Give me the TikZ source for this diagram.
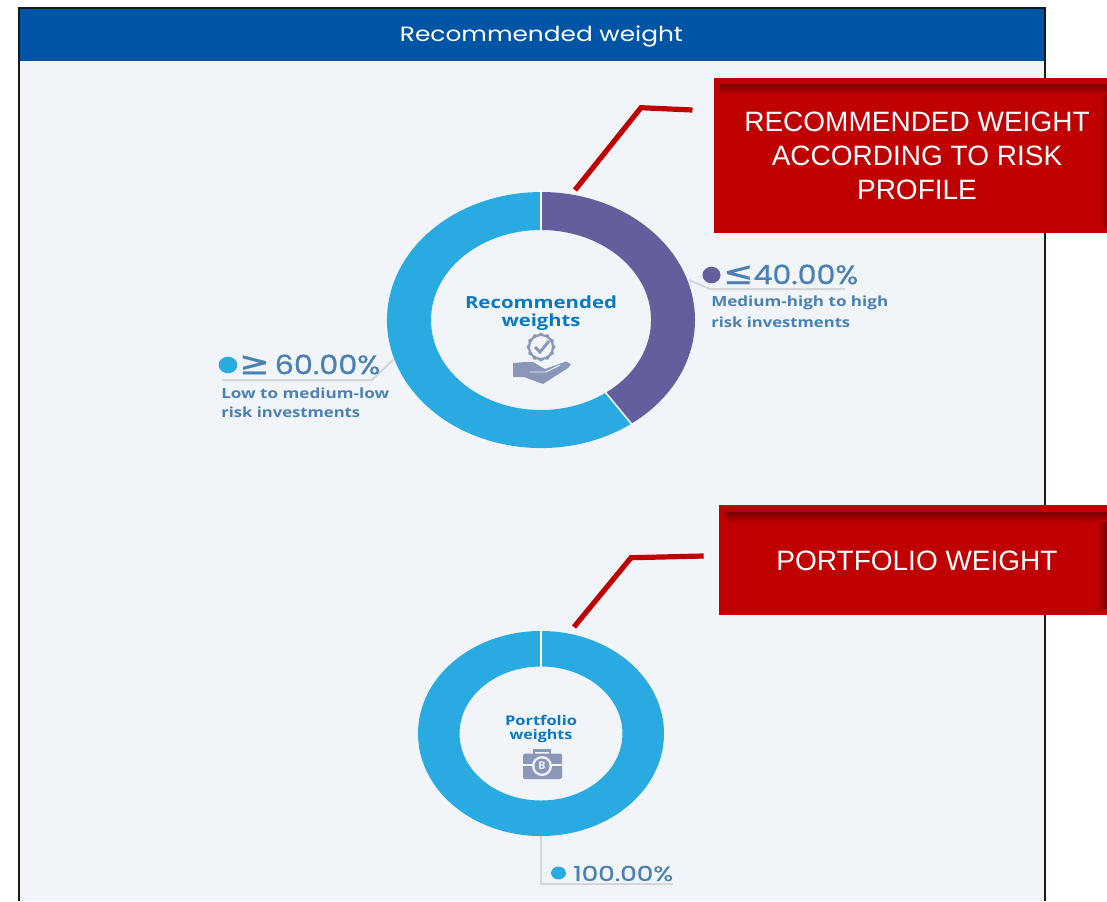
\documentclass[tikz,border=0pt]{standalone}
\usepackage{graphicx}
\usepackage{fontspec}
\setmainfont{Open Sans}
\newfontfamily\callfont{Liberation Sans}
\newfontfamily\hdrfont{Poppins}
\newfontfamily\pctfont[FakeBold=0.7]{Poppins}
\newfontfamily\symfont[FakeBold=0.7]{DejaVu Sans}
\newdimen\pxu \pxu=0.75pt
\newcommand{\fitw}[2]{\resizebox{#1\pxu}{\height}{#2}}
\definecolor{hdrblue}{HTML}{0054A6}
\definecolor{panelbg}{HTML}{F1F5F9}
\definecolor{ringblue}{HTML}{29ABE2}
\definecolor{ringpurple}{HTML}{625F9C}
\definecolor{callred}{HTML}{C00000}
\definecolor{calldark}{HTML}{7A0000}
\definecolor{labelblue}{HTML}{4A80B4}
\definecolor{centreblue}{HTML}{0A78C2}
\definecolor{icongrey}{HTML}{8A97B8}
\definecolor{leadergrey}{HTML}{D2D6DC}
\tikzset{
  lbl/.style={inner sep=0pt,anchor=west,text=labelblue},
  bigpct/.style={lbl,font=\pctfont\fontsize{20}{20}\selectfont},
  smalltxt/.style={lbl,font=\fontsize{10.5}{10.5}\selectfont\bfseries},
  centretxt/.style={inner sep=0pt,text=centreblue,font=\fontsize{12.5}{12.5}\selectfont\bfseries},
  centresm/.style={inner sep=0pt,text=centreblue,font=\fontsize{10}{10}\selectfont\bfseries},
  leader/.style={draw=leadergrey,line width=1.5pt},
  callbox/.style={fill=callred,draw=none,inner sep=0pt,rectangle},
  calltxt/.style={inner sep=0pt,text=white,align=center,font=\callfont\fontsize{21}{25.5}\selectfont},
  callline/.style={draw=callred,line width=3.9pt,line join=miter},
}
\begin{document}
\begin{tikzpicture}[x=0.75pt,y=-0.75pt]
\useasboundingbox (0,0) rectangle (1107,901);
% panel
\fill[panelbg] (19,8) rectangle (1045,901);
\node[fill=hdrblue,inner sep=0pt,minimum width=769.5pt,minimum height=39.75pt] (hdr) at (532,34.5) {};
\node[inner sep=0pt,text=white,font=\hdrfont\fontsize{15.5}{15.5}\selectfont] (hdrtxt) at (541.5,36) {\fitw{283}{Recommended weight}};
\draw[black!90,line width=1.6pt] (19,901) -- (19,8) -- (1045,8) -- (1045,901);
% donut 1
\fill[ringpurple] (541,192) arc[start angle=90,end angle=-54,x radius=115.5pt,y radius=96pt]
  -- (605.7,392.8) arc[start angle=-54,end angle=90,x radius=82.5pt,y radius=67.5pt] -- cycle;
\fill[ringblue] (631.5,423.6) arc[start angle=-54,end angle=-270,x radius=115.5pt,y radius=96pt]
  -- (541,230) arc[start angle=-270,end angle=-54,x radius=82.5pt,y radius=67.5pt] -- cycle;
\draw[white,line width=1.1pt] (541,191) -- (541,231);
\draw[white,line width=1.1pt] (632,424.5) -- (605.2,392);
% donut 2
\fill[ringblue,even odd rule] (541,733.5) ellipse [x radius=92.25pt,y radius=76.9pt]
  (541,733.5) ellipse [x radius=61.1pt,y radius=50.25pt];
\draw[white,line width=1.1pt] (541,630) -- (541,667);
% leaders
\coordinate (l1a) at (393,360); \coordinate (l1b) at (372,380); \coordinate (l1c) at (222,380);
\coordinate (l2a) at (689,280); \coordinate (l2b) at (710,289); \coordinate (l2c) at (845,289);
\coordinate (l3a) at (541,836); \coordinate (l3b) at (541,884); \coordinate (l3c) at (673,884);
\draw[leader] (l1a) -- (l1b) -- (l1c);
\draw[leader] (l2a) -- (l2b) -- (l2c);
\draw[leader] (l3a) -- (l3b) -- (l3c);
% labels left
\fill[ringblue] (228,365) ellipse [x radius=7pt,y radius=6.2pt];
\node[bigpct] (p60) at (239,364.5) {\fitw{141}{{\symfont\fontsize{24}{24}\selectfont ≥}\,60.00\%}};
\node[smalltxt] (s60a) at (221,393) {\fitw{168}{Low to medium-low}};
\node[smalltxt] (s60b) at (221,412) {\fitw{139}{risk investments}};
% labels right
\fill[ringpurple] (711.5,275) ellipse [x radius=6.8pt,y radius=6.2pt];
\node[bigpct] (p40) at (723,274.5) {\fitw{135}{{\symfont\fontsize{24}{24}\selectfont ≤}40.00\%}};
\node[smalltxt] (s40a) at (711,303) {\fitw{177}{Medium-high to high}};
\node[smalltxt] (s40b) at (711,322) {\fitw{139}{risk investments}};
% bottom label
\fill[ringblue] (558.5,873) ellipse [x radius=5.6pt,y radius=4.8pt];
\node[lbl,font=\pctfont\fontsize{15.5}{15.5}\selectfont] (p100) at (573,873.5) {\fitw{100}{100.00\%}};
% centre texts
\node[centretxt] (c1a) at (541,302.5) {\fitw{152}{Recommended}};
\node[centretxt] (c1b) at (541,322) {\fitw{79}{weights}};
\node[centresm] (c2a) at (541,720) {\fitw{72}{Portfolio}};
\node[centresm] (c2b) at (541,736) {\fitw{63}{weights}};
% gear icon
\fill[icongrey,even odd rule]
  plot[smooth cycle,samples=24,domain=0:345] ({541+(mod(\x,30)<1?14.5:12.8)*cos(\x)},{347+(mod(\x,30)<1?14.5:12.8)*sin(\x)})
  (541,347) circle[radius=8.2pt];
\draw[icongrey,line width=2.2pt] (535,347) -- (540,352) -- (549,341);
% hand icon
\fill[icongrey] (513,363) -- (525,362) -- (533,362) -- (545,369) -- (566,361.5) -- (571,364)
  -- (568,368) -- (543,384) -- (524,377) -- (513,377) -- cycle;
\draw[panelbg,line width=0.7pt] (530,372) -- (546,372) -- (560,365);
% briefcase icon
\draw[icongrey,line width=1.9pt] (534,755) -- (534,750.5) -- (550,750.5) -- (550,755);
\fill[icongrey,rounded corners=1.5pt] (523,753.5) rectangle (562,779);
\draw[panelbg,line width=1pt] (523,765) -- (562,765);
\fill[panelbg] (542,766) circle[radius=7.5pt];
\fill[icongrey] (542,766) circle[radius=5.7pt];
\node[inner sep=0pt,text=panelbg,font=\fontsize{8}{8}\selectfont\bfseries] (coin) at (542,766) {B};
% callouts
\node[callbox,minimum width=294.75pt,minimum height=116.25pt] (call1) at (910.5,155.5) {};
\shade[top color=calldark,bottom color=callred] (720,84) rectangle (1107,95);
\shade[left color=callred,right color=calldark!70!callred] (1100,95) rectangle (1107,226);
\node[calltxt] (call1t) at (917,155.5) {RECOMMENDED WEIGHT\\ACCORDING TO RISK\\PROFILE};
\node[callbox,minimum width=291pt,minimum height=82.5pt] (call2) at (913,560) {};
\shade[top color=calldark,bottom color=callred] (725,512) rectangle (1107,522);
\shade[left color=callred,right color=calldark] (1097,522) rectangle (1107,608);
\node[calltxt] (call2t) at (917,561) {PORTFOLIO WEIGHT};
% callout connectors
\coordinate (k1a) at (692.5,110); \coordinate (k1b) at (641,107.7); \coordinate (k1c) at (575,190);
\coordinate (k2a) at (703.7,556); \coordinate (k2b) at (631,557.7); \coordinate (k2c) at (574,627);
\draw[callline] (k1a) -- (k1b) -- (k1c);
\draw[callline] (k2a) -- (k2b) -- (k2c);
\end{tikzpicture}
\end{document}
